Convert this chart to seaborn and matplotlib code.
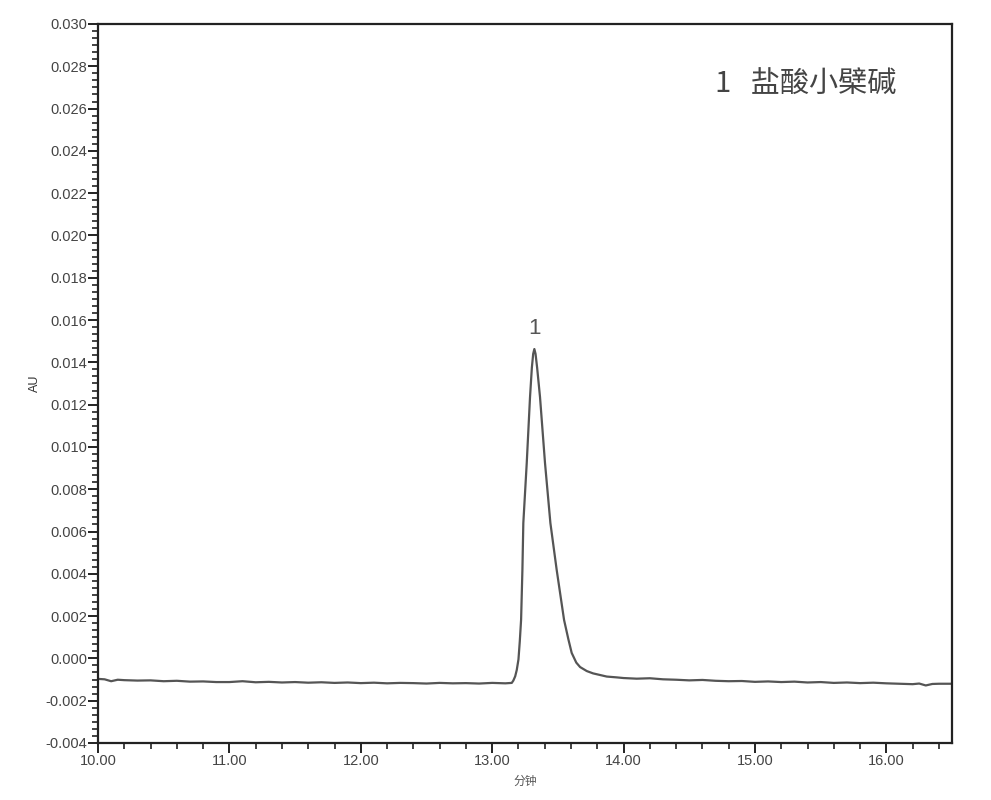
import matplotlib
matplotlib.use("Agg")
import matplotlib.pyplot as plt
import pandas as pd
import seaborn as sns
from matplotlib.ticker import MultipleLocator, AutoMinorLocator, FormatStrFormatter

# values (minutes, AU)
base_t1 = [10.0, 10.05, 10.1, 10.15, 10.2, 10.3, 10.4, 10.5, 10.6, 10.7, 10.8, 10.9,
           11.0, 11.1, 11.2, 11.3, 11.4, 11.5, 11.6, 11.7, 11.8, 11.9,
           12.0, 12.1, 12.2, 12.3, 12.4, 12.5, 12.6, 12.7, 12.8, 12.9,
           13.0, 13.1]
base_a1 = [-0.00097, -0.00099, -0.00108, -0.00101, -0.00103, -0.00105, -0.00104, -0.00108, -0.00106, -0.00110, -0.00109, -0.00112,
           -0.00112, -0.00108, -0.00113, -0.00111, -0.00114, -0.00112, -0.00115, -0.00113, -0.00116, -0.00114,
           -0.00117, -0.00115, -0.00118, -0.00116, -0.00117, -0.00119, -0.00116, -0.00118, -0.00117, -0.00119,
           -0.00116, -0.00118]

peak_t = [13.149, 13.161, 13.175, 13.187, 13.200, 13.210, 13.220, 13.230, 13.237, 13.263, 13.288,
          13.302, 13.312, 13.321, 13.330, 13.342, 13.364, 13.402, 13.443, 13.491, 13.547,
          13.580, 13.605, 13.640, 13.669, 13.720, 13.768, 13.872]
peak_a = [-0.00116, -0.00105, -0.00085, -0.00055, -0.00005, 0.00080, 0.00182, 0.00418, 0.00640, 0.00924, 0.01236,
          0.01375, 0.01440, 0.01463, 0.01440, 0.01375, 0.01236, 0.00924, 0.00640, 0.00418, 0.00182,
          0.00090, 0.00026, -0.00020, -0.00041, -0.00060, -0.00071, -0.00086]

base_t2 = [13.95, 14.0, 14.1, 14.2, 14.3, 14.4, 14.5, 14.6, 14.7, 14.8, 14.9,
           15.0, 15.1, 15.2, 15.3, 15.4, 15.5, 15.6, 15.7, 15.8, 15.9,
           16.0, 16.1, 16.2, 16.25, 16.3, 16.35, 16.4, 16.5]
base_a2 = [-0.00090, -0.00093, -0.00096, -0.00094, -0.00099, -0.00101, -0.00104, -0.00102, -0.00106, -0.00108, -0.00107,
           -0.00111, -0.00109, -0.00112, -0.00110, -0.00114, -0.00112, -0.00116, -0.00114, -0.00117, -0.00115,
           -0.00118, -0.00120, -0.00122, -0.00119, -0.00128, -0.00121, -0.00120, -0.00120]

peak_label = "1"
legend_text = "1   盐酸小檗碱"

df = pd.DataFrame({
    "t": base_t1 + peak_t + base_t2,
    "AU": base_a1 + peak_a + base_a2,
})

sns.set_theme(style="ticks")
plt.rcParams["font.family"] = ["Liberation Sans", "Noto Sans CJK SC", "DejaVu Sans"]

fig = plt.figure(figsize=(9.91, 8), dpi=100)
ax = fig.add_axes([0.0989, 0.0713, 0.8618, 0.8987])

sns.lineplot(data=df, x="t", y="AU", ax=ax, color="#555555", linewidth=1.6,
             estimator=None, sort=False)

ax.set_xlim(10.0, 16.5)
ax.set_ylim(-0.004, 0.030)
ax.xaxis.set_major_locator(MultipleLocator(1.0))
ax.xaxis.set_minor_locator(MultipleLocator(0.2))
ax.xaxis.set_major_formatter(FormatStrFormatter("%.2f"))
ax.yaxis.set_major_locator(MultipleLocator(0.002))
ax.yaxis.set_minor_locator(AutoMinorLocator(6))
ax.yaxis.set_major_formatter(FormatStrFormatter("%.3f"))

ax.tick_params(which="major", direction="out", length=7, width=1.4,
               color="#222222", labelsize=10.5, labelcolor="#444444", pad=1)
ax.tick_params(which="minor", direction="out", length=4, width=1.2, color="#222222")
for s in ax.spines.values():
    s.set_visible(True)
    s.set_linewidth(1.6)
    s.set_color("#222222")

ax.set_xlabel("分钟", family=["Noto Sans CJK SC", "DejaVu Sans"], fontsize=8.5,
              color="#555555", labelpad=5)
ax.set_ylabel("AU", fontsize=9, color="#333333", labelpad=3)

ax.text(13.32, 0.0156, peak_label, ha="center", va="center", fontsize=16, color="#555555")
ax.text(0.722, 0.915, legend_text, transform=ax.transAxes, ha="left", va="center",
        fontsize=21, color="#444444", family=["Noto Sans CJK SC", "DejaVu Sans"])

fig.savefig("out.png", dpi=100, facecolor="white")
